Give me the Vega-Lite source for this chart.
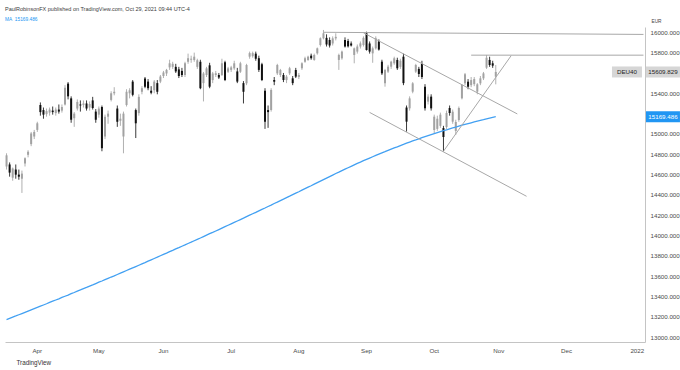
{
  "$schema": "https://vega.github.io/schema/vega-lite/v6.json",
  "width": 640,
  "height": 315,
  "autosize": {"type": "none"},
  "padding": {"left": 5, "top": 27, "right": 35, "bottom": 28},
  "background": "white",
  "config": {
    "font": "Liberation Sans",
    "view": {"stroke": null},
    "axis": {"grid": false, "ticks": false, "domainColor": "#c4c4c4", "labelColor": "#4a4a4a", "labelFontSize": 6.2, "zindex": 0},
    "axisY": {"labelOverlap": false}
  },
  "title": {
    "text": "PaulRobinsonFX published on TradingView.com, Oct 29, 2021 09:44 UTC-4",
    "subtitle": "\u00a0\u00a0\u00a0MA\u00a0\u00a015169.486",
    "anchor": "start",
    "frame": "group",
    "fontSize": 5.5,
    "fontWeight": "normal",
    "color": "#3c3c3c",
    "subtitleFontSize": 4.8,
    "subtitleColor": "#2196f3",
    "subtitlePadding": 5,
    "offset": -4
  },
  "datasets": {
    "candles": [
      {"d":"2021-03-18","o":14680,"h":14810,"l":14650,"c":14790,"ma":13175},
      {"d":"2021-03-19","o":14700,"h":14720,"l":14580,"c":14620,"ma":13187},
      {"d":"2021-03-22","o":14570,"h":14670,"l":14540,"c":14660,"ma":13199},
      {"d":"2021-03-23","o":14650,"h":14700,"l":14560,"c":14600,"ma":13210},
      {"d":"2021-03-24","o":14600,"h":14650,"l":14550,"c":14580,"ma":13222},
      {"d":"2021-03-25","o":14560,"h":14640,"l":14420,"c":14610,"ma":13234},
      {"d":"2021-03-26","o":14710,"h":14770,"l":14680,"c":14760,"ma":13246},
      {"d":"2021-03-29","o":14795,"h":14840,"l":14770,"c":14825,"ma":13258},
      {"d":"2021-03-30","o":14900,"h":15020,"l":14880,"c":15005,"ma":13270},
      {"d":"2021-03-31","o":14975,"h":15040,"l":14950,"c":15020,"ma":13282},
      {"d":"2021-04-01","o":15040,"h":15120,"l":15020,"c":15105,"ma":13294},
      {"d":"2021-04-06","o":15285,"h":15310,"l":15180,"c":15215,"ma":13306},
      {"d":"2021-04-07","o":15235,"h":15260,"l":15150,"c":15190,"ma":13318},
      {"d":"2021-04-08","o":15195,"h":15250,"l":15170,"c":15225,"ma":13330},
      {"d":"2021-04-09","o":15210,"h":15260,"l":15180,"c":15240,"ma":13343},
      {"d":"2021-04-12","o":15230,"h":15270,"l":15190,"c":15215,"ma":13355},
      {"d":"2021-04-13","o":15205,"h":15260,"l":15180,"c":15240,"ma":13367},
      {"d":"2021-04-14","o":15240,"h":15290,"l":15200,"c":15220,"ma":13379},
      {"d":"2021-04-15","o":15230,"h":15290,"l":15210,"c":15265,"ma":13392},
      {"d":"2021-04-16","o":15290,"h":15480,"l":15280,"c":15455,"ma":13404},
      {"d":"2021-04-19","o":15495,"h":15510,"l":15340,"c":15370,"ma":13416},
      {"d":"2021-04-20","o":15350,"h":15370,"l":15110,"c":15140,"ma":13429},
      {"d":"2021-04-21","o":15155,"h":15215,"l":15070,"c":15200,"ma":13441},
      {"d":"2021-04-22","o":15250,"h":15340,"l":15230,"c":15315,"ma":13454},
      {"d":"2021-04-23","o":15290,"h":15330,"l":15220,"c":15280,"ma":13466},
      {"d":"2021-04-26","o":15285,"h":15330,"l":15260,"c":15300,"ma":13479},
      {"d":"2021-04-27","o":15300,"h":15330,"l":15230,"c":15250,"ma":13491},
      {"d":"2021-04-28","o":15260,"h":15320,"l":15230,"c":15295,"ma":13504},
      {"d":"2021-04-29","o":15330,"h":15365,"l":15240,"c":15255,"ma":13516},
      {"d":"2021-04-30","o":15220,"h":15245,"l":15110,"c":15140,"ma":13529},
      {"d":"2021-05-03","o":15190,"h":15270,"l":15160,"c":15250,"ma":13542},
      {"d":"2021-05-04","o":15265,"h":15280,"l":14830,"c":14860,"ma":13554},
      {"d":"2021-05-05","o":14975,"h":15190,"l":14950,"c":15170,"ma":13567},
      {"d":"2021-05-06","o":15170,"h":15230,"l":15100,"c":15200,"ma":13580},
      {"d":"2021-05-07","o":15335,"h":15420,"l":15320,"c":15400,"ma":13593},
      {"d":"2021-05-10","o":15400,"h":15460,"l":15380,"c":15415,"ma":13605},
      {"d":"2021-05-11","o":15250,"h":15280,"l":15070,"c":15120,"ma":13618},
      {"d":"2021-05-12","o":15130,"h":15200,"l":15080,"c":15150,"ma":13631},
      {"d":"2021-05-13","o":14975,"h":15220,"l":14810,"c":15200,"ma":13644},
      {"d":"2021-05-14","o":15285,"h":15440,"l":15270,"c":15415,"ma":13657},
      {"d":"2021-05-17","o":15400,"h":15450,"l":15350,"c":15430,"ma":13670},
      {"d":"2021-05-18","o":15515,"h":15530,"l":15370,"c":15385,"ma":13683},
      {"d":"2021-05-19","o":15235,"h":15250,"l":14960,"c":15105,"ma":13696},
      {"d":"2021-05-20","o":15205,"h":15390,"l":15180,"c":15365,"ma":13709},
      {"d":"2021-05-21","o":15415,"h":15470,"l":15390,"c":15450,"ma":13722},
      {"d":"2021-05-24","o":15545,"h":15560,"l":15450,"c":15465,"ma":13735},
      {"d":"2021-05-25","o":15515,"h":15540,"l":15430,"c":15450,"ma":13749},
      {"d":"2021-05-26","o":15425,"h":15470,"l":15390,"c":15405,"ma":13762},
      {"d":"2021-05-27","o":15430,"h":15530,"l":15400,"c":15515,"ma":13775},
      {"d":"2021-05-28","o":15500,"h":15530,"l":15390,"c":15415,"ma":13788},
      {"d":"2021-05-31","o":15515,"h":15580,"l":15500,"c":15565,"ma":13802},
      {"d":"2021-06-01","o":15570,"h":15620,"l":15550,"c":15605,"ma":13815},
      {"d":"2021-06-02","o":15595,"h":15640,"l":15570,"c":15630,"ma":13828},
      {"d":"2021-06-03","o":15655,"h":15730,"l":15630,"c":15695,"ma":13842},
      {"d":"2021-06-04","o":15660,"h":15710,"l":15640,"c":15690,"ma":13855},
      {"d":"2021-06-07","o":15660,"h":15690,"l":15600,"c":15615,"ma":13869},
      {"d":"2021-06-08","o":15635,"h":15660,"l":15550,"c":15570,"ma":13882},
      {"d":"2021-06-09","o":15620,"h":15650,"l":15560,"c":15580,"ma":13896},
      {"d":"2021-06-10","o":15580,"h":15710,"l":15560,"c":15695,"ma":13909},
      {"d":"2021-06-11","o":15710,"h":15790,"l":15690,"c":15745,"ma":13923},
      {"d":"2021-06-14","o":15730,"h":15770,"l":15700,"c":15740,"ma":13936},
      {"d":"2021-06-15","o":15727,"h":15800,"l":15710,"c":15760,"ma":13950},
      {"d":"2021-06-16","o":15660,"h":15740,"l":15640,"c":15725,"ma":13964},
      {"d":"2021-06-17","o":15710,"h":15730,"l":15440,"c":15450,"ma":13977},
      {"d":"2021-06-18","o":15500,"h":15610,"l":15320,"c":15595,"ma":13991},
      {"d":"2021-06-21","o":15580,"h":15660,"l":15560,"c":15645,"ma":14005},
      {"d":"2021-06-22","o":15675,"h":15700,"l":15450,"c":15465,"ma":14019},
      {"d":"2021-06-23","o":15530,"h":15610,"l":15500,"c":15595,"ma":14032},
      {"d":"2021-06-24","o":15580,"h":15620,"l":15560,"c":15597,"ma":14046},
      {"d":"2021-06-25","o":15580,"h":15600,"l":15540,"c":15555,"ma":14060},
      {"d":"2021-06-28","o":15580,"h":15740,"l":15570,"c":15695,"ma":14074},
      {"d":"2021-06-29","o":15705,"h":15720,"l":15520,"c":15530,"ma":14088},
      {"d":"2021-06-30","o":15612,"h":15660,"l":15600,"c":15645,"ma":14102},
      {"d":"2021-07-01","o":15630,"h":15670,"l":15610,"c":15655,"ma":14116},
      {"d":"2021-07-02","o":15645,"h":15720,"l":15630,"c":15695,"ma":14130},
      {"d":"2021-07-05","o":15615,"h":15650,"l":15500,"c":15515,"ma":14144},
      {"d":"2021-07-06","o":15612,"h":15710,"l":15600,"c":15695,"ma":14158},
      {"d":"2021-07-07","o":15500,"h":15520,"l":15300,"c":15415,"ma":14172},
      {"d":"2021-07-08","o":15498,"h":15690,"l":15480,"c":15678,"ma":14187},
      {"d":"2021-07-09","o":15760,"h":15810,"l":15740,"c":15795,"ma":14201},
      {"d":"2021-07-12","o":15765,"h":15810,"l":15750,"c":15795,"ma":14215},
      {"d":"2021-07-13","o":15790,"h":15810,"l":15720,"c":15740,"ma":14229},
      {"d":"2021-07-14","o":15745,"h":15770,"l":15610,"c":15630,"ma":14244},
      {"d":"2021-07-15","o":15685,"h":15700,"l":15520,"c":15530,"ma":14258},
      {"d":"2021-07-16","o":15425,"h":15450,"l":15050,"c":15120,"ma":14272},
      {"d":"2021-07-19","o":15235,"h":15280,"l":15060,"c":15215,"ma":14287},
      {"d":"2021-07-20","o":15236,"h":15450,"l":15220,"c":15433,"ma":14301},
      {"d":"2021-07-21","o":15531,"h":15560,"l":15480,"c":15514,"ma":14316},
      {"d":"2021-07-22","o":15596,"h":15690,"l":15580,"c":15678,"ma":14330},
      {"d":"2021-07-23","o":15580,"h":15640,"l":15560,"c":15629,"ma":14345},
      {"d":"2021-07-26","o":15580,"h":15600,"l":15510,"c":15531,"ma":14359},
      {"d":"2021-07-27","o":15530,"h":15580,"l":15500,"c":15564,"ma":14374},
      {"d":"2021-07-28","o":15596,"h":15660,"l":15580,"c":15646,"ma":14388},
      {"d":"2021-07-29","o":15547,"h":15570,"l":15480,"c":15500,"ma":14403},
      {"d":"2021-07-30","o":15629,"h":15650,"l":15550,"c":15564,"ma":14418},
      {"d":"2021-08-02","o":15560,"h":15600,"l":15540,"c":15580,"ma":14432},
      {"d":"2021-08-03","o":15646,"h":15705,"l":15630,"c":15695,"ma":14447},
      {"d":"2021-08-04","o":15711,"h":15760,"l":15700,"c":15744,"ma":14462},
      {"d":"2021-08-05","o":15727,"h":15770,"l":15720,"c":15760,"ma":14477},
      {"d":"2021-08-06","o":15770,"h":15790,"l":15730,"c":15745,"ma":14491},
      {"d":"2021-08-09","o":15728,"h":15790,"l":15720,"c":15777,"ma":14506},
      {"d":"2021-08-10","o":15793,"h":15850,"l":15780,"c":15842,"ma":14521},
      {"d":"2021-08-11","o":15875,"h":15950,"l":15860,"c":15941,"ma":14536},
      {"d":"2021-08-12","o":15941,"h":16023,"l":15930,"c":15990,"ma":14551},
      {"d":"2021-08-13","o":15945,"h":15980,"l":15860,"c":15880,"ma":14566},
      {"d":"2021-08-16","o":15924,"h":15950,"l":15850,"c":15870,"ma":14581},
      {"d":"2021-08-17","o":15890,"h":15960,"l":15870,"c":15940,"ma":14596},
      {"d":"2021-08-18","o":15940,"h":15990,"l":15920,"c":15955,"ma":14611},
      {"d":"2021-08-19","o":15728,"h":15790,"l":15630,"c":15777,"ma":14625},
      {"d":"2021-08-20","o":15744,"h":15820,"l":15730,"c":15810,"ma":14640},
      {"d":"2021-08-23","o":15924,"h":15950,"l":15850,"c":15860,"ma":14654},
      {"d":"2021-08-24","o":15915,"h":15935,"l":15850,"c":15862,"ma":14668},
      {"d":"2021-08-25","o":15890,"h":15910,"l":15860,"c":15870,"ma":14682},
      {"d":"2021-08-26","o":15777,"h":15850,"l":15695,"c":15842,"ma":14696},
      {"d":"2021-08-27","o":15810,"h":15880,"l":15790,"c":15860,"ma":14710},
      {"d":"2021-08-30","o":15860,"h":15910,"l":15840,"c":15891,"ma":14723},
      {"d":"2021-08-31","o":15875,"h":15960,"l":15860,"c":15945,"ma":14737},
      {"d":"2021-09-01","o":15990,"h":16006,"l":15820,"c":15826,"ma":14750},
      {"d":"2021-09-02","o":15890,"h":15910,"l":15790,"c":15810,"ma":14763},
      {"d":"2021-09-03","o":15793,"h":15860,"l":15700,"c":15842,"ma":14776},
      {"d":"2021-09-06","o":15842,"h":15960,"l":15830,"c":15941,"ma":14789},
      {"d":"2021-09-07","o":15910,"h":15930,"l":15820,"c":15830,"ma":14802},
      {"d":"2021-09-08","o":15711,"h":15730,"l":15580,"c":15596,"ma":14814},
      {"d":"2021-09-09","o":15498,"h":15640,"l":15465,"c":15629,"ma":14826},
      {"d":"2021-09-10","o":15613,"h":15680,"l":15600,"c":15662,"ma":14839},
      {"d":"2021-09-13","o":15662,"h":15720,"l":15640,"c":15711,"ma":14851},
      {"d":"2021-09-14","o":15695,"h":15760,"l":15680,"c":15744,"ma":14863},
      {"d":"2021-09-15","o":15728,"h":15750,"l":15630,"c":15646,"ma":14874},
      {"d":"2021-09-16","o":15660,"h":15740,"l":15640,"c":15720,"ma":14886},
      {"d":"2021-09-17","o":15760,"h":15790,"l":15480,"c":15500,"ma":14897},
      {"d":"2021-09-20","o":15260,"h":15280,"l":15023,"c":15121,"ma":14909},
      {"d":"2021-09-21","o":15252,"h":15370,"l":15230,"c":15350,"ma":14920},
      {"d":"2021-09-22","o":15416,"h":15510,"l":15400,"c":15498,"ma":14931},
      {"d":"2021-09-23","o":15613,"h":15690,"l":15600,"c":15678,"ma":14941},
      {"d":"2021-09-24","o":15640,"h":15660,"l":15560,"c":15590,"ma":14952},
      {"d":"2021-09-27","o":15690,"h":15720,"l":15540,"c":15560,"ma":14963},
      {"d":"2021-09-28","o":15465,"h":15490,"l":15230,"c":15252,"ma":14973},
      {"d":"2021-09-29","o":15318,"h":15390,"l":15290,"c":15367,"ma":14983},
      {"d":"2021-09-30","o":15367,"h":15390,"l":15230,"c":15252,"ma":14993},
      {"d":"2021-10-01","o":15039,"h":15190,"l":15000,"c":15170,"ma":15003},
      {"d":"2021-10-04","o":15050,"h":15180,"l":15030,"c":15150,"ma":15013},
      {"d":"2021-10-05","o":15080,"h":15210,"l":15060,"c":15190,"ma":15023},
      {"d":"2021-10-06","o":15058,"h":15080,"l":14830,"c":14970,"ma":15032},
      {"d":"2021-10-07","o":15068,"h":15230,"l":15050,"c":15206,"ma":15041},
      {"d":"2021-10-08","o":15255,"h":15280,"l":15180,"c":15206,"ma":15051},
      {"d":"2021-10-11","o":15121,"h":15240,"l":15100,"c":15219,"ma":15060},
      {"d":"2021-10-12","o":15030,"h":15140,"l":14990,"c":15118,"ma":15068},
      {"d":"2021-10-13","o":15137,"h":15270,"l":15120,"c":15255,"ma":15077},
      {"d":"2021-10-14","o":15351,"h":15490,"l":15340,"c":15482,"ma":15086},
      {"d":"2021-10-15","o":15498,"h":15600,"l":15480,"c":15587,"ma":15094},
      {"d":"2021-10-18","o":15514,"h":15540,"l":15440,"c":15465,"ma":15102},
      {"d":"2021-10-19","o":15480,"h":15560,"l":15460,"c":15530,"ma":15110},
      {"d":"2021-10-20","o":15490,"h":15560,"l":15470,"c":15540,"ma":15118},
      {"d":"2021-10-21","o":15416,"h":15500,"l":15390,"c":15488,"ma":15126},
      {"d":"2021-10-22","o":15498,"h":15570,"l":15480,"c":15547,"ma":15134},
      {"d":"2021-10-25","o":15547,"h":15610,"l":15530,"c":15596,"ma":15141},
      {"d":"2021-10-26","o":15652,"h":15777,"l":15640,"c":15750,"ma":15149},
      {"d":"2021-10-27","o":15728,"h":15760,"l":15660,"c":15678,"ma":15156},
      {"d":"2021-10-28","o":15695,"h":15720,"l":15650,"c":15672,"ma":15163},
      {"d":"2021-10-29","o":15564,"h":15678,"l":15488,"c":15610,"ma":15169.486}
    ],
    "lines": [
      {"id":"top","d":"2021-08-12","p":16000},{"id":"top","d":"2022-01-05","p":15979},
      {"id":"res","d":"2021-10-19","p":15775},{"id":"res","d":"2022-01-05","p":15775},
      {"id":"chu","d":"2021-08-31","p":15995},{"id":"chu","d":"2021-11-09","p":15197},
      {"id":"chl","d":"2021-09-02","p":15212},{"id":"chl","d":"2021-11-12","p":14387},
      {"id":"up","d":"2021-10-06","p":14830},{"id":"up","d":"2021-11-05","p":15770}
    ],
    "tags": [
      {"d":"2022-01-05","p":15609.829,"lab":"15609.829","k":"last"},
      {"d":"2022-01-05","p":15169.486,"lab":"15169.486","k":"ma"},
      {"d":"2022-01-05","p":15609.829,"lab":"DEU40","k":"sym"}
    ]
  },
  "encoding": {
    "x": {
      "field": "d",
      "type": "ordinal",
      "scale": {
        "type": "band",
        "paddingInner": 0,
        "paddingOuter": 0,
        "domain": ["2021-03-18","2021-03-19","2021-03-22","2021-03-23","2021-03-24","2021-03-25","2021-03-26","2021-03-29","2021-03-30","2021-03-31",
          "2021-04-01","2021-04-06","2021-04-07","2021-04-08","2021-04-09","2021-04-12","2021-04-13","2021-04-14","2021-04-15","2021-04-16","2021-04-19","2021-04-20","2021-04-21","2021-04-22","2021-04-23","2021-04-26","2021-04-27","2021-04-28","2021-04-29","2021-04-30",
          "2021-05-03","2021-05-04","2021-05-05","2021-05-06","2021-05-07","2021-05-10","2021-05-11","2021-05-12","2021-05-13","2021-05-14","2021-05-17","2021-05-18","2021-05-19","2021-05-20","2021-05-21","2021-05-24","2021-05-25","2021-05-26","2021-05-27","2021-05-28","2021-05-31",
          "2021-06-01","2021-06-02","2021-06-03","2021-06-04","2021-06-07","2021-06-08","2021-06-09","2021-06-10","2021-06-11","2021-06-14","2021-06-15","2021-06-16","2021-06-17","2021-06-18","2021-06-21","2021-06-22","2021-06-23","2021-06-24","2021-06-25","2021-06-28","2021-06-29","2021-06-30",
          "2021-07-01","2021-07-02","2021-07-05","2021-07-06","2021-07-07","2021-07-08","2021-07-09","2021-07-12","2021-07-13","2021-07-14","2021-07-15","2021-07-16","2021-07-19","2021-07-20","2021-07-21","2021-07-22","2021-07-23","2021-07-26","2021-07-27","2021-07-28","2021-07-29","2021-07-30",
          "2021-08-02","2021-08-03","2021-08-04","2021-08-05","2021-08-06","2021-08-09","2021-08-10","2021-08-11","2021-08-12","2021-08-13","2021-08-16","2021-08-17","2021-08-18","2021-08-19","2021-08-20","2021-08-23","2021-08-24","2021-08-25","2021-08-26","2021-08-27","2021-08-30","2021-08-31",
          "2021-09-01","2021-09-02","2021-09-03","2021-09-06","2021-09-07","2021-09-08","2021-09-09","2021-09-10","2021-09-13","2021-09-14","2021-09-15","2021-09-16","2021-09-17","2021-09-20","2021-09-21","2021-09-22","2021-09-23","2021-09-24","2021-09-27","2021-09-28","2021-09-29","2021-09-30",
          "2021-10-01","2021-10-04","2021-10-05","2021-10-06","2021-10-07","2021-10-08","2021-10-11","2021-10-12","2021-10-13","2021-10-14","2021-10-15","2021-10-18","2021-10-19","2021-10-20","2021-10-21","2021-10-22","2021-10-25","2021-10-26","2021-10-27","2021-10-28","2021-10-29",
          "2021-11-01","2021-11-02","2021-11-03","2021-11-04","2021-11-05","2021-11-08","2021-11-09","2021-11-10","2021-11-11","2021-11-12","2021-11-15","2021-11-16","2021-11-17","2021-11-18","2021-11-19","2021-11-22","2021-11-23","2021-11-24","2021-11-25","2021-11-26","2021-11-29","2021-11-30",
          "2021-12-01","2021-12-02","2021-12-03","2021-12-06","2021-12-07","2021-12-08","2021-12-09","2021-12-10","2021-12-13","2021-12-14","2021-12-15","2021-12-16","2021-12-17","2021-12-20","2021-12-21","2021-12-22","2021-12-23","2021-12-24","2021-12-27","2021-12-28","2021-12-29","2021-12-30","2021-12-31",
          "2022-01-03","2022-01-04","2022-01-05"]
      },
      "axis": {
        "values": ["2021-04-01","2021-05-03","2021-06-01","2021-07-01","2021-08-02","2021-09-01","2021-10-01","2021-11-01","2021-12-01","2022-01-03"],
        "labelExpr": "datum.value == '2022-01-03' ? '2022' : utcFormat(toDate(datum.value), '%b')",
        "labelAngle": 0,
        "labelPadding": 5,
        "labelOverlap": false,
        "title": "TradingView",
        "titleFontSize": 6.3,
        "titleFontWeight": "normal",
        "titleColor": "#333333",
        "titleAnchor": "start",
        "titleAlign": "left",
        "titleBaseline": "middle",
        "titleX": 11,
        "titleY": 20
      }
    }
  },
  "layer": [
    {
      "data": {"name": "candles"},
      "mark": {"type": "rule", "strokeWidth": 1},
      "encoding": {
        "y": {
          "field": "l",
          "type": "quantitative",
          "scale": {"domain": [12954, 16052], "nice": false, "zero": false},
          "axis": {"orient": "right", "values": [13000,13200,13400,13600,13800,14000,14200,14400,14600,14800,15000,15400,15800,16000], "format": ".3f", "labelPadding": 5, "labelAlign": "left", "labelBaseline": "middle", "labelOverlap": false, "title": "EUR", "titleAngle": 0, "titleX": 11, "titleY": -6, "titleFontSize": 4.8, "titleFontWeight": "normal", "titleColor": "#444444", "titleAlign": "center", "titleBaseline": "middle"}
        },
        "y2": {"field": "h"},
        "color": {"condition": {"test": "datum.c >= datum.o", "value": "#b0b0b0"}, "value": "#3a3a3a"}
      }
    },
    {
      "data": {"name": "candles"},
      "mark": {"type": "bar", "width": 2},
      "encoding": {
        "y": {"field": "o", "type": "quantitative", "scale": {"domain": [12954, 16052], "nice": false, "zero": false},
          "axis": {"orient": "right", "values": [13000,13200,13400,13600,13800,14000,14200,14400,14600,14800,15000,15400,15800,16000], "format": ".3f", "labelPadding": 5, "labelAlign": "left", "labelBaseline": "middle", "labelOverlap": false, "title": "EUR", "titleAngle": 0, "titleX": 11, "titleY": -6, "titleFontSize": 4.8, "titleFontWeight": "normal", "titleColor": "#444444", "titleAlign": "center", "titleBaseline": "middle"}},
        "y2": {"field": "c"},
        "color": {"condition": {"test": "datum.c >= datum.o", "value": "#a2a2a2"}, "value": "#111111"}
      }
    },
    {
      "data": {"name": "candles"},
      "mark": {"type": "line", "color": "#42a0f2", "strokeWidth": 1.3},
      "encoding": {
        "y": {"field": "ma", "type": "quantitative", "scale": {"domain": [12954, 16052], "nice": false, "zero": false},
          "axis": {"orient": "right", "values": [13000,13200,13400,13600,13800,14000,14200,14400,14600,14800,15000,15400,15800,16000], "format": ".3f", "labelPadding": 5, "labelAlign": "left", "labelBaseline": "middle", "labelOverlap": false, "title": "EUR", "titleAngle": 0, "titleX": 11, "titleY": -6, "titleFontSize": 4.8, "titleFontWeight": "normal", "titleColor": "#444444", "titleAlign": "center", "titleBaseline": "middle"}}
      }
    },
    {
      "data": {"name": "lines"},
      "mark": {"type": "line", "color": "#a8a8a8", "strokeWidth": 1},
      "encoding": {
        "y": {"field": "p", "type": "quantitative", "scale": {"domain": [12954, 16052], "nice": false, "zero": false},
          "axis": {"orient": "right", "values": [13000,13200,13400,13600,13800,14000,14200,14400,14600,14800,15000,15400,15800,16000], "format": ".3f", "labelPadding": 5, "labelAlign": "left", "labelBaseline": "middle", "labelOverlap": false, "title": "EUR", "titleAngle": 0, "titleX": 11, "titleY": -6, "titleFontSize": 4.8, "titleFontWeight": "normal", "titleColor": "#444444", "titleAlign": "center", "titleBaseline": "middle"}},
        "detail": {"field": "id"}
      }
    },
    {
      "data": {"name": "tags"},
      "transform": [{"filter": "datum.k != 'sym'"}],
      "mark": {"type": "point", "shape": "M-1,-0.324L1,-0.324L1,0.324L-1,0.324Z", "size": 1156, "filled": true, "opacity": 1, "strokeWidth": 0, "xOffset": 19.5},
      "encoding": {
        "y": {"field": "p", "type": "quantitative", "scale": {"domain": [12954, 16052], "nice": false, "zero": false},
          "axis": {"orient": "right", "values": [13000,13200,13400,13600,13800,14000,14200,14400,14600,14800,15000,15400,15800,16000], "format": ".3f", "labelPadding": 5, "labelAlign": "left", "labelBaseline": "middle", "labelOverlap": false, "title": "EUR", "titleAngle": 0, "titleX": 11, "titleY": -6, "titleFontSize": 4.8, "titleFontWeight": "normal", "titleColor": "#444444", "titleAlign": "center", "titleBaseline": "middle"}},
        "color": {"condition": {"test": "datum.k == 'ma'", "value": "#2196f3"}, "value": "#d6d6d6"}
      }
    },
    {
      "data": {"name": "tags"},
      "transform": [{"filter": "datum.k == 'sym'"}],
      "mark": {"type": "point", "shape": "M-1,-0.367L1,-0.367L1,0.367L-1,0.367Z", "size": 900, "filled": true, "opacity": 1, "strokeWidth": 0, "xOffset": -16.5},
      "encoding": {
        "y": {"field": "p", "type": "quantitative", "scale": {"domain": [12954, 16052], "nice": false, "zero": false},
          "axis": {"orient": "right", "values": [13000,13200,13400,13600,13800,14000,14200,14400,14600,14800,15000,15400,15800,16000], "format": ".3f", "labelPadding": 5, "labelAlign": "left", "labelBaseline": "middle", "labelOverlap": false, "title": "EUR", "titleAngle": 0, "titleX": 11, "titleY": -6, "titleFontSize": 4.8, "titleFontWeight": "normal", "titleColor": "#444444", "titleAlign": "center", "titleBaseline": "middle"}},
        "color": {"value": "#d6d6d6"}
      }
    },
    {
      "data": {"name": "tags"},
      "transform": [{"filter": "datum.k != 'sym'"}],
      "mark": {"type": "text", "fontSize": 6.2, "align": "center", "baseline": "middle", "dx": 19.5},
      "encoding": {
        "y": {"field": "p", "type": "quantitative", "scale": {"domain": [12954, 16052], "nice": false, "zero": false},
          "axis": {"orient": "right", "values": [13000,13200,13400,13600,13800,14000,14200,14400,14600,14800,15000,15400,15800,16000], "format": ".3f", "labelPadding": 5, "labelAlign": "left", "labelBaseline": "middle", "labelOverlap": false, "title": "EUR", "titleAngle": 0, "titleX": 11, "titleY": -6, "titleFontSize": 4.8, "titleFontWeight": "normal", "titleColor": "#444444", "titleAlign": "center", "titleBaseline": "middle"}},
        "text": {"field": "lab"},
        "color": {"condition": {"test": "datum.k == 'ma'", "value": "#ffffff"}, "value": "#1e1e1e"}
      }
    },
    {
      "data": {"name": "tags"},
      "transform": [{"filter": "datum.k == 'sym'"}],
      "mark": {"type": "text", "fontSize": 6.2, "align": "center", "baseline": "middle", "dx": -16.5},
      "encoding": {
        "y": {"field": "p", "type": "quantitative", "scale": {"domain": [12954, 16052], "nice": false, "zero": false},
          "axis": {"orient": "right", "values": [13000,13200,13400,13600,13800,14000,14200,14400,14600,14800,15000,15400,15800,16000], "format": ".3f", "labelPadding": 5, "labelAlign": "left", "labelBaseline": "middle", "labelOverlap": false, "title": "EUR", "titleAngle": 0, "titleX": 11, "titleY": -6, "titleFontSize": 4.8, "titleFontWeight": "normal", "titleColor": "#444444", "titleAlign": "center", "titleBaseline": "middle"}},
        "text": {"field": "lab"},
        "color": {"value": "#1e1e1e"}
      }
    }
  ]
}
